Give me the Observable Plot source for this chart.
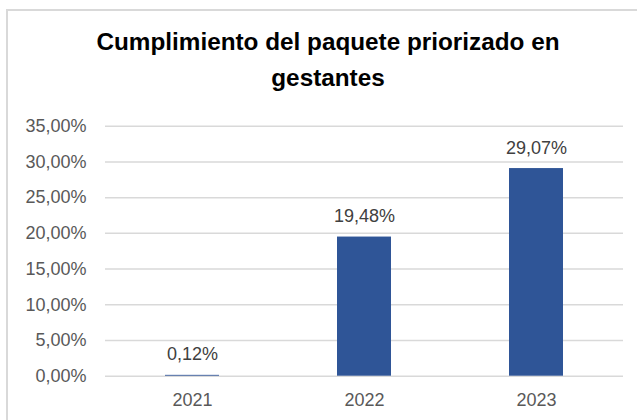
<!DOCTYPE html>
<html>
<head>
<meta charset="utf-8">
<script src="https://cdn.jsdelivr.net/npm/d3@7"></script>
<script src="https://cdn.jsdelivr.net/npm/@observablehq/plot@0.6"></script>
<style>
  html, body { margin: 0; padding: 0; background: #fff; width: 637px; height: 420px; overflow: hidden; }
  #frame { position: absolute; left: 6px; top: 9px; width: 700px; height: 500px; border: 2px solid #d9d9d9; box-sizing: border-box; }
  #title { position: absolute; left: 28px; width: 600px; top: 24px; text-align: center;
           font-family: "Liberation Sans Narrow", "Liberation Sans", sans-serif; font-weight: bold;
           font-size: 24.3px; line-height: 36px; color: #000; }
  #chart { position: absolute; left: 0; top: 100px; }
</style>
</head>
<body>
<div id="frame"></div>
<div id="title">Cumplimiento del paquete priorizado en<br>gestantes</div>
<div id="chart"></div>
<script>
const titleText = "Cumplimiento del paquete priorizado en gestantes";
const years = ["2021", "2022", "2023"];
const values = [0.12, 19.48, 29.07];
const valueLabels = ["0,12%", "19,48%", "29,07%"];
const yTicks = [0, 5, 10, 15, 20, 25, 30, 35];
const yTickLabels = ["0,00%", "5,00%", "10,00%", "15,00%", "20,00%", "25,00%", "30,00%", "35,00%"];

const data = years.map((y, i) => ({year: y, value: values[i], label: valueLabels[i]}));

const plot = Plot.plot({
  width: 637,
  height: 320,
  marginLeft: 105,
  marginRight: 14,
  marginTop: 25.7,
  marginBottom: 44.3,
  style: {fontFamily: "'Liberation Sans', sans-serif", fontSize: "18px", color: "#595959", background: "transparent"},
  x: {domain: years, paddingInner: 0.687, paddingOuter: 0.3435, label: null},
  y: {domain: [0, 35], label: null},
  marks: [
    Plot.ruleY(yTicks, {stroke: "#d9d9d9", strokeWidth: 1.5}),
    Plot.barY(data, {x: "year", y: "value", fill: "#2F5597"}),
    Plot.text(data, {x: "year", y: "value", text: "label", lineAnchor: "bottom", dy: -15, fill: "#404040", fontSize: 18}),
    Plot.axisY({ticks: yTicks, tickFormat: d => yTickLabels[yTicks.indexOf(d)], tickSize: 0, tickPadding: 19, fill: "#595959", fontSize: 18}),
    Plot.axisX({tickSize: 0, tickPadding: 17, fill: "#595959", fontSize: 18})
  ]
});
document.getElementById("chart").appendChild(plot);
</script>
</body>
</html>
